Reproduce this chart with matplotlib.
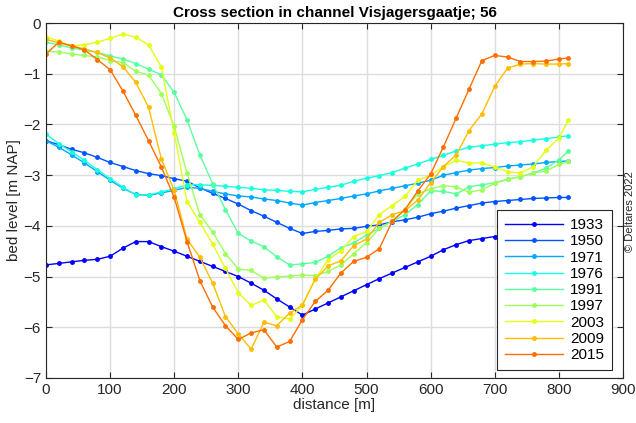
import matplotlib
matplotlib.use("Agg")
import matplotlib.pyplot as plt
import numpy as np

plt.rcParams['font.family'] = ['Liberation Sans', 'DejaVu Sans']

# distance along the cross section [m]
distance = list(range(0, 801, 20)) + [815]

years = ['1933', '1950', '1971', '1976', '1991', '1997', '2003', '2009', '2015']

bed_1933 = [-4.77, -4.74, -4.71, -4.68, -4.66, -4.60, -4.44, -4.31, -4.31, -4.41,
            -4.50, -4.60, -4.70, -4.80, -4.90, -5.00, -5.13, -5.27, -5.44, -5.60,
            -5.76, -5.64, -5.52, -5.40, -5.28, -5.16, -5.04, -4.93, -4.82, -4.71,
            -4.60, -4.47, -4.37, -4.29, -4.25, -4.21, -4.18, -4.15, -4.12, -4.10,
            -4.08, -4.07]
bed_1950 = [-2.32, -2.40, -2.49, -2.56, -2.65, -2.75, -2.83, -2.91, -2.97, -3.01,
            -3.07, -3.12, -3.25, -3.36, -3.46, -3.57, -3.70, -3.81, -3.93, -4.05,
            -4.15, -4.11, -4.09, -4.06, -4.05, -4.01, -3.98, -3.92, -3.88, -3.83,
            -3.76, -3.71, -3.65, -3.60, -3.55, -3.52, -3.50, -3.48, -3.46, -3.45,
            -3.44, -3.44]
bed_1971 = [-2.32, -2.45, -2.60, -2.76, -2.93, -3.10, -3.26, -3.38, -3.40, -3.35,
            -3.30, -3.24, -3.26, -3.32, -3.37, -3.41, -3.43, -3.47, -3.50, -3.55,
            -3.59, -3.54, -3.50, -3.46, -3.41, -3.37, -3.31, -3.26, -3.21, -3.16,
            -3.10, -3.00, -2.95, -2.90, -2.87, -2.85, -2.82, -2.80, -2.78, -2.75,
            -2.73, -2.72]
bed_1976 = [-2.19, -2.38, -2.54, -2.71, -2.89, -3.07, -3.24, -3.39, -3.39, -3.33,
            -3.27, -3.19, -3.19, -3.20, -3.22, -3.24, -3.26, -3.29, -3.30, -3.32,
            -3.33, -3.28, -3.24, -3.20, -3.12, -3.06, -3.01, -2.95, -2.86, -2.78,
            -2.69, -2.61, -2.52, -2.45, -2.42, -2.39, -2.36, -2.34, -2.31, -2.28,
            -2.25, -2.22]
bed_1991 = [-0.38, -0.43, -0.49, -0.54, -0.58, -0.65, -0.71, -0.80, -0.91, -1.02,
            -1.37, -1.91, -2.60, -3.17, -3.68, -4.15, -4.30, -4.41, -4.61, -4.77,
            -4.75, -4.72, -4.60, -4.43, -4.34, -4.18, -4.05, -3.91, -3.78, -3.58,
            -3.31, -3.32, -3.37, -3.23, -3.19, -3.15, -3.08, -3.03, -2.96, -2.86,
            -2.70, -2.52]
bed_1997 = [-0.56, -0.57, -0.61, -0.64, -0.67, -0.74, -0.78, -0.95, -1.03, -1.39,
            -2.04, -2.96, -3.78, -4.12, -4.55, -4.85, -4.88, -5.03, -5.01, -4.99,
            -4.97, -4.98, -4.90, -4.77, -4.55, -4.33, -4.05, -3.91, -3.67, -3.37,
            -3.27, -3.21, -3.23, -3.34, -3.29, -3.16, -3.08, -3.03, -2.96, -2.92,
            -2.79, -2.73]
bed_2003 = [-0.27, -0.36, -0.45, -0.43, -0.38, -0.30, -0.22, -0.28, -0.43, -0.87,
            -2.17, -3.52, -3.93, -4.36, -4.84, -5.32, -5.57, -5.46, -5.79, -5.84,
            -5.57, -5.05, -4.67, -4.49, -4.21, -4.11, -3.78, -3.60, -3.42, -3.10,
            -3.00, -2.83, -2.71, -2.76, -2.76, -2.84, -2.93, -2.96, -2.83, -2.51,
            -2.27, -1.91]
bed_2009 = [-0.32, -0.39, -0.45, -0.51, -0.58, -0.69, -0.86, -1.17, -1.66, -2.68,
            -3.30, -4.26, -4.62, -5.13, -5.79, -6.13, -6.43, -5.90, -5.97, -5.72,
            -5.56, -5.05, -4.79, -4.69, -4.39, -4.26, -3.93, -3.78, -3.70, -3.49,
            -3.15, -2.83, -2.60, -2.12, -1.79, -1.25, -0.89, -0.81, -0.80, -0.81,
            -0.81, -0.80]
bed_2015 = [-0.61, -0.38, -0.45, -0.53, -0.72, -0.92, -1.34, -1.82, -2.32, -2.84,
            -3.44, -4.31, -5.08, -5.60, -5.97, -6.24, -6.11, -6.05, -6.39, -6.28,
            -5.85, -5.49, -5.27, -4.93, -4.70, -4.62, -4.45, -3.91, -3.68, -3.31,
            -2.98, -2.44, -1.87, -1.30, -0.74, -0.64, -0.67, -0.76, -0.76, -0.75,
            -0.71, -0.69]

profiles = [bed_1933, bed_1950, bed_1971, bed_1976, bed_1991,
            bed_1997, bed_2003, bed_2009, bed_2015]

colors = plt.cm.jet(np.linspace(0.125, 0.7917, len(years)))

fig = plt.figure(figsize=(6.36, 4.23), dpi=100)
ax = fig.add_axes([0.0723, 0.1064, 0.9072, 0.8392])

for bed, color, year in zip(profiles, colors, years):
    ax.plot(distance, bed, color=color, marker='.', markersize=5,
            linewidth=1, label=year)

ax.set_xlim(0, 900)
ax.set_ylim(-7, 0)
ax.set_xticks(range(0, 901, 100))
ax.set_yticks(range(-7, 1))
ax.grid(True, color='#dddddd', linewidth=1)
ax.set_axisbelow(True)
ax.tick_params(direction='in', top=True, right=True, labelsize=11,
               color='#262626', labelcolor='#262626', length=4)
for s in ax.spines.values():
    s.set_color('#262626')
    s.set_linewidth(0.8)

ax.set_title('Cross section in channel Visjagersgaatje; 56',
             fontsize=11, fontweight='bold', pad=4)
ax.set_xlabel('distance [m]', fontsize=11, color='#262626', labelpad=1)
ax.set_ylabel('bed level [m NAP]', fontsize=11, color='#262626', labelpad=2)

leg = ax.legend(loc='lower right', bbox_to_anchor=(0.981, 0.0225),
                fontsize=11, handlelength=3.8, fancybox=False,
                edgecolor='#262626', framealpha=1, borderpad=0.5,
                labelspacing=0.15, handletextpad=0.5, borderaxespad=0)
leg.get_frame().set_linewidth(0.8)

fig.text(0.99, 0.5, '\u00a9 Deltares 2022', rotation=90, fontsize=8,
         ha='center', va='center', color='#262626')

fig.savefig('out.png', dpi=100)
